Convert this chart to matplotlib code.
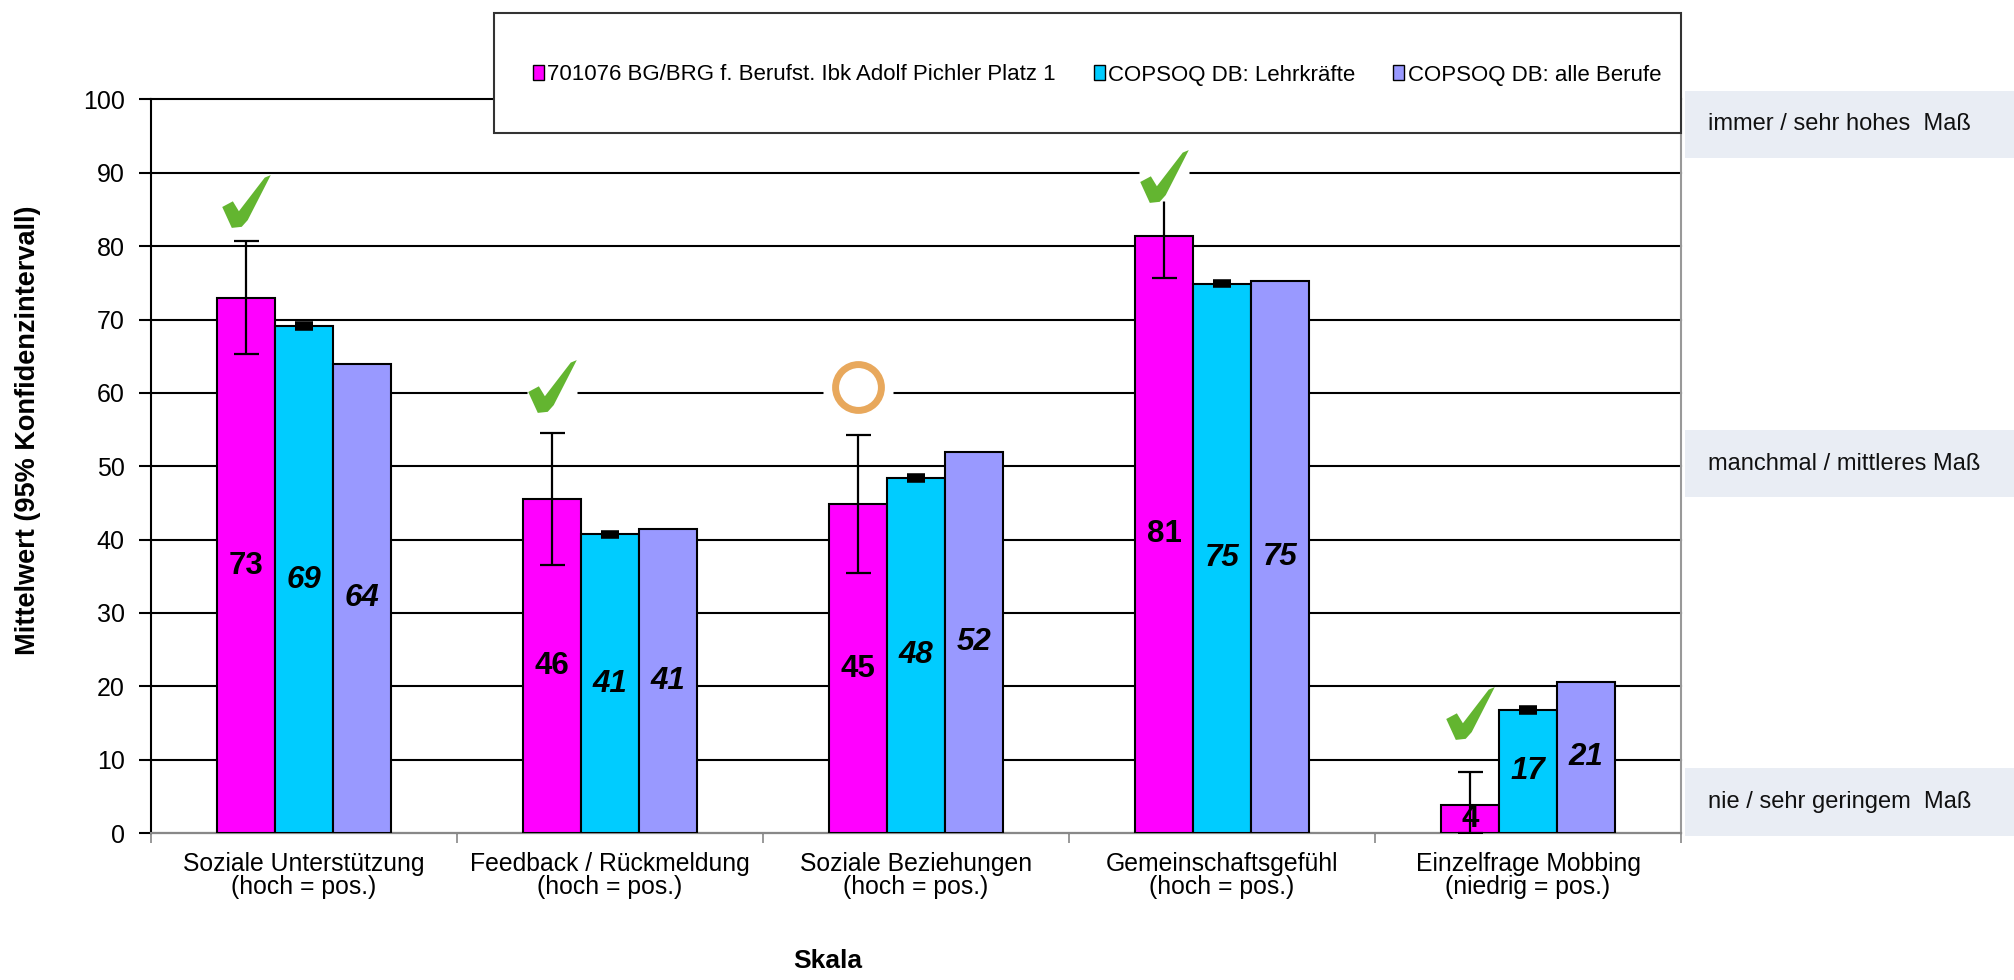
import matplotlib
matplotlib.use("Agg")
import matplotlib.pyplot as plt
from matplotlib.patches import Rectangle, Patch
from matplotlib.path import Path
import numpy as np

plt.rcParams['font.family'] = ['Liberation Sans', 'DejaVu Sans']

categories = ["Soziale Unterstützung\n(hoch = pos.)",
              "Feedback / Rückmeldung\n(hoch = pos.)",
              "Soziale Beziehungen\n(hoch = pos.)",
              "Gemeinschaftsgefühl\n(hoch = pos.)",
              "Einzelfrage Mobbing\n(niedrig = pos.)"]
series_names = ["701076 BG/BRG f. Berufst. Ibk Adolf Pichler Platz 1",
                "COPSOQ DB: Lehrkräfte",
                "COPSOQ DB: alle Berufe"]
school = [72.9, 45.6, 44.8, 81.4, 3.8]
school_ci_low = [65.3, 36.6, 35.5, 75.6, 0.0]
school_ci_high = [80.7, 54.6, 54.2, 87.4, 8.3]
teachers = [69.1, 40.7, 48.4, 74.9, 16.8]
teachers_err = [0.25, 0.25, 0.25, 0.25, 0.25]
all_jobs = [64.0, 41.4, 52.0, 75.3, 20.6]
markers = ["check", "check", "circle", "check", "check"]
marker_y = [86.1, 60.9, 60.8, 89.6, 16.4]
yticks = [0, 10, 20, 30, 40, 50, 60, 70, 80, 90, 100]
scale_labels = ["immer / sehr hohes  Maß", "manchmal / mittleres Maß", "nie / sehr geringem  Maß"]

colors = ["#FF00FF", "#00CCFF", "#9999FF"]

# check-mark glyph shape (marker path)
_cv = np.array([(125, 138), (155, 122), (172, 150), (245, 55), (262, 48),
                (197, 175), (180, 194), (152, 197), (125, 138)], dtype=float)
_cv[:, 0] -= 193.5
_cv[:, 1] = -(_cv[:, 1] - 122.5)
check_path = Path(_cv, closed=True)

W, H = 2014, 980
fig = plt.figure(figsize=(W / 100, H / 100), dpi=100)
ax = fig.add_axes([151 / W, 1 - 833 / H, (1681 - 151) / W, (833 - 99.5) / H])

x = np.arange(len(categories))
w = 0.189
series = [school, teachers, all_jobs]
for i, (vals, col) in enumerate(zip(series, colors)):
    xs = x + (i - 1) * w
    ax.bar(xs, vals, width=w, color=col, edgecolor="black", linewidth=1.5, zorder=3)
    for xv, v in zip(xs, vals):
        ax.text(xv, v / 2, f"{v:.0f}", ha="center", va="center", fontsize=22.5,
                fontweight="bold", fontstyle="normal" if i == 0 else "italic",
                color="black", zorder=6)

# error bars
lo = np.array(school) - np.array(school_ci_low)
hi = np.array(school_ci_high) - np.array(school)
ax.errorbar(x - w, school, yerr=[lo, hi], fmt="none", ecolor="black",
            elinewidth=1.6, capsize=9, capthick=1.6, zorder=5)
ax.errorbar(x, teachers, yerr=teachers_err, fmt="none", ecolor="black",
            elinewidth=1.5, capsize=6.5, capthick=4, zorder=5)

# marks
for xi, m, my in zip(x, markers, marker_y):
    xm = xi - w
    if m == "check":
        ax.plot([xm], [my], marker="s", markersize=36, color="white",
                markeredgecolor="none", zorder=6)
        ax.plot([xm], [my], marker=check_path, markersize=38, color="#63B530",
                markeredgecolor="none", zorder=7)
    else:
        ax.plot([xm], [my], marker="s", markersize=50, color="white",
                markeredgecolor="none", zorder=6)
        ax.plot([xm], [my], marker="o", markersize=33, markerfacecolor="none",
                markeredgecolor="#E8A85C", markeredgewidth=5, zorder=7)

ax.set_xlim(-0.5, len(categories) - 0.5)
ax.set_ylim(0, 100)
ax.set_yticks(yticks)
ax.set_yticklabels([str(t) for t in yticks], fontsize=18)
ax.yaxis.grid(True, color="black", linewidth=1.5, zorder=0)
for gl in ax.get_ygridlines():
    gl.set_clip_on(False)
ax.set_axisbelow(True)

ax.set_xticks(np.arange(len(categories) + 1) - 0.5)
ax.set_xticklabels([])
ax.set_xticks(x, minor=True)
ax.set_xticklabels(categories, minor=True, fontsize=17.8, linespacing=0.95)
ax.tick_params(axis="x", which="minor", length=0, pad=14)
ax.tick_params(axis="x", which="major", length=7, width=1.2, color="#888888")
ax.tick_params(axis="y", length=9, width=1.5, color="black", pad=10)

ax.spines["top"].set_visible(False)
ax.spines["left"].set_color("black")
ax.spines["left"].set_linewidth(1.5)
ax.spines["bottom"].set_color("#888888")
ax.spines["bottom"].set_linewidth(1.5)
ax.spines["right"].set_color("#999999")
ax.spines["right"].set_linewidth(1.5)

fig.text(28 / W, 1 - 430 / H, "Mittelwert (95% Konfidenzintervall)", rotation=90,
         ha="center", va="center", fontsize=19.5, fontweight="bold")
fig.text(828 / W, 1 - 961 / H, "Skala", ha="center", va="center",
         fontsize=19, fontweight="bold")

# legend box
fig.add_artist(Rectangle((494 / W, 1 - 133 / H), (1681 - 494) / W, (133 - 13) / H,
                         transform=fig.transFigure, facecolor="white",
                         edgecolor="#333333", linewidth=1.5, zorder=4))
handles = [Patch(facecolor=c, edgecolor="black", linewidth=1.0) for c in colors]
fig.legend(handles, series_names, loc="center", bbox_to_anchor=(1097 / W, 1 - 75 / H),
           ncol=3, frameon=False, fontsize=16, handlelength=0.5, handleheight=0.7,
           handletextpad=0.15, columnspacing=1.7)

# right-side scale boxes
boxes = [(91, 158), (430, 497), (768, 836)]
for (y0, y1), lab in zip(boxes, scale_labels):
    fig.add_artist(Rectangle((1685 / W, 1 - y1 / H), (W - 1685) / W, (y1 - y0) / H,
                             transform=fig.transFigure, facecolor="#E9EDF4",
                             edgecolor="none", zorder=1))
    fig.text(1708 / W, 1 - (y0 + y1) / 2 / H, lab, ha="left", va="center",
             fontsize=17, color="#111111")

fig.savefig("out.png", dpi=100)
